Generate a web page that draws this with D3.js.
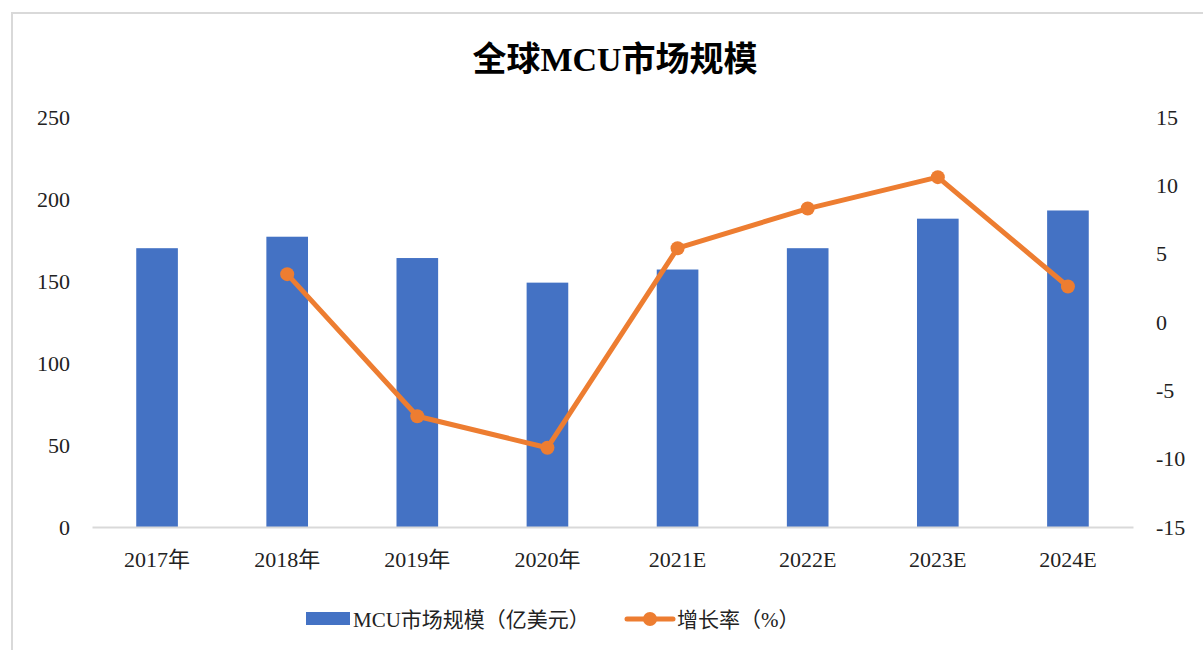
<!DOCTYPE html>
<html>
<head>
<meta charset="utf-8">
<script src="https://cdn.jsdelivr.net/npm/d3@7"></script>
<style>
  body { margin: 0; background: #fff; }
  svg { display: block; font-family: "Liberation Serif", "Noto Sans CJK SC", serif; }
</style>
</head>
<body>
<div id="chart"></div>
<script>
// data
const categories = ['2017年', '2018年', '2019年', '2020年', '2021E', '2022E', '2023E', '2024E']
const marketSize = [170, 177, 164, 149, 157, 170, 188, 193]
const growthRate = [null, 3.5, -6.9, -9.2, 5.4, 8.3, 10.6, 2.6]
const leftTicks = [0, 50, 100, 150, 200, 250]
const rightTicks = [-15, -10, -5, 0, 5, 10, 15]

const W = 1203
const H = 650
const margin = { left: 92, right: 1133, top: 117, bottom: 527 }
const BLUE = '#4472C4'
const ORANGE = '#ED7D31'

const svg = d3.select('#chart').append('svg')
  .attr('width', W)
  .attr('height', H)

// outer frame
svg.append('rect')
  .attr('x', 12).attr('y', 13)
  .attr('width', W).attr('height', H)
  .attr('fill', 'none')
  .attr('stroke', '#d9d9d9')
  .attr('stroke-width', 2)

/* ---------- scales ---------- */
const x = d3.scaleBand()
  .domain(categories)
  .range([margin.left, margin.right])
  .paddingInner(0.68)
  .paddingOuter(0.34)

const yL = d3.scaleLinear().domain([0, 250]).range([margin.bottom, margin.top])
const yR = d3.scaleLinear().domain([-15, 15]).range([margin.bottom, margin.top])

/* ---------- title ---------- */
svg.append('text')
  .attr('x', 615)
  .attr('y', 71)
  .attr('text-anchor', 'middle')
  .style('font-size', '34px')
  .style('font-weight', 'bold')
  .style('fill', '#000')
  .text('全球MCU市场规模')

/* ---------- bars ---------- */
svg.selectAll('.bar')
  .data(categories)
  .enter().append('rect')
  .attr('class', 'bar')
  .attr('x', d => x(d))
  .attr('y', (d, i) => yL(marketSize[i]))
  .attr('width', x.bandwidth())
  .attr('height', (d, i) => yL(0) - yL(marketSize[i]))
  .attr('fill', BLUE)

/* ---------- axes ---------- */
const tickFont = '"Liberation Serif", "Noto Sans CJK SC", serif'

const axisL = svg.append('g')
  .attr('transform', `translate(${margin.left - 22}, 0)`)
  .call(d3.axisLeft(yL).tickValues(leftTicks).tickSize(0).tickPadding(0).tickFormat(String))
axisL.select('.domain').remove()
axisL.selectAll('text')
  .style('font-family', tickFont)
  .style('font-size', '22px')
  .style('fill', '#222')

const axisR = svg.append('g')
  .attr('transform', `translate(${margin.right + 23}, 0)`)
  .call(d3.axisRight(yR).tickValues(rightTicks).tickSize(0).tickPadding(0).tickFormat(String))
axisR.select('.domain').remove()
axisR.selectAll('text')
  .style('font-family', tickFont)
  .style('font-size', '22px')
  .style('fill', '#222')

const axisB = svg.append('g')
  .attr('transform', `translate(0, ${margin.bottom})`)
  .call(d3.axisBottom(x).tickSize(0).tickPadding(24))
axisB.select('.domain')
  .attr('stroke', '#d9d9d9')
  .attr('stroke-width', 2)
axisB.selectAll('text')
  .style('font-family', tickFont)
  .style('font-size', '22px')
  .style('fill', '#222')

/* ---------- growth line ---------- */
const pts = categories
  .map((c, i) => ({ c, v: growthRate[i] }))
  .filter(d => d.v !== null)

svg.append('path')
  .datum(pts)
  .attr('fill', 'none')
  .attr('stroke', ORANGE)
  .attr('stroke-width', 5)
  .attr('stroke-linejoin', 'round')
  .attr('d', d3.line()
    .x(d => x(d.c) + x.bandwidth() / 2)
    .y(d => yR(d.v)))

svg.selectAll('.dot')
  .data(pts)
  .enter().append('circle')
  .attr('class', 'dot')
  .attr('cx', d => x(d.c) + x.bandwidth() / 2)
  .attr('cy', d => yR(d.v))
  .attr('r', 7)
  .attr('fill', ORANGE)

/* ---------- legend ---------- */
const legend = svg.append('g')
legend.append('rect')
  .attr('x', 306).attr('y', 612)
  .attr('width', 44).attr('height', 13)
  .attr('fill', BLUE)
legend.append('text')
  .attr('x', 353).attr('y', 627)
  .style('font-size', '21px')
  .style('fill', '#222')
  .text('MCU市场规模（亿美元）')

legend.append('line')
  .attr('x1', 627).attr('x2', 673)
  .attr('y1', 619).attr('y2', 619)
  .attr('stroke', ORANGE)
  .attr('stroke-width', 5)
  .attr('stroke-linecap', 'round')
legend.append('circle')
  .attr('cx', 650).attr('cy', 619)
  .attr('r', 7)
  .attr('fill', ORANGE)
legend.append('text')
  .attr('x', 677).attr('y', 627)
  .style('font-size', '21px')
  .style('fill', '#222')
  .text('增长率（%）')
</script>
</body>
</html>
